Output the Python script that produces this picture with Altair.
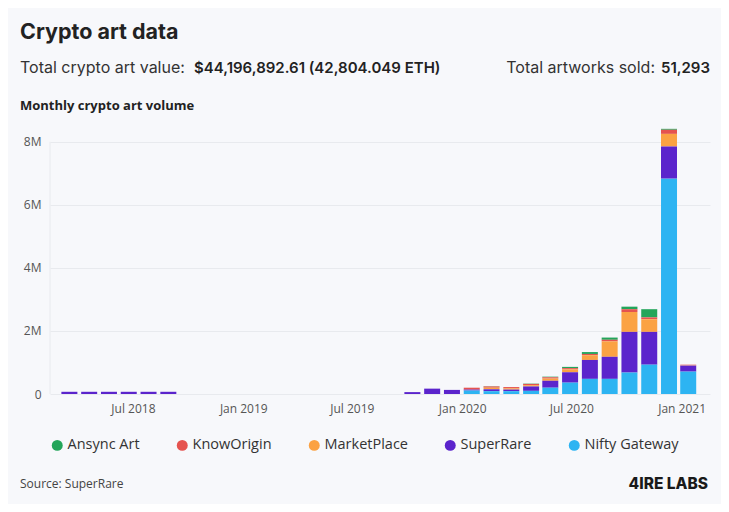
import altair as alt
import pandas as pd

# ---- data (values in millions of USD) ----
dates = [
    "2018-03-17", "2018-04-19", "2018-05-22", "2018-06-24", "2018-07-27", "2018-08-29",
    "2019-10-10", "2019-11-12", "2019-12-15", "2020-01-17", "2020-02-19", "2020-03-23",
    "2020-04-25", "2020-05-27", "2020-06-29", "2020-08-01", "2020-09-03", "2020-10-06",
    "2020-11-08", "2020-12-11", "2021-01-12",
]
nifty_gateway = [0, 0, 0, 0, 0, 0,
                 0, 0, 0, 0.11, 0.09, 0.09, 0.10, 0.20, 0.36, 0.48, 0.48, 0.68, 0.93, 6.83, 0.71]
superrare = [0.07, 0.07, 0.07, 0.07, 0.07, 0.07,
             0.06, 0.17, 0.13, 0.03, 0.06, 0.05, 0.14, 0.22, 0.33, 0.60, 0.70, 1.29, 1.04, 1.02, 0.19]
marketplace = [0, 0, 0, 0, 0, 0,
               0, 0, 0, 0, 0.05, 0.04, 0.04, 0.07, 0.09, 0.15, 0.49, 0.63, 0.40, 0.40, 0.01]
knoworigin = [0, 0, 0, 0, 0, 0,
              0, 0, 0, 0.06, 0.04, 0.04, 0.04, 0.04, 0.04, 0.04, 0.05, 0.09, 0.06, 0.13, 0.02]
ansync_art = [0, 0, 0, 0, 0, 0,
              0, 0, 0, 0, 0.01, 0, 0.01, 0.02, 0.04, 0.06, 0.07, 0.08, 0.26, 0.03, 0]

series_names = ["Ansync Art", "KnowOrigin", "MarketPlace", "SuperRare", "Nifty Gateway"]
series_colors = ["#23a55a", "#e5534f", "#fba243", "#5b24cc", "#2db4f2"]
series_values = [ansync_art, knoworigin, marketplace, superrare, nifty_gateway]
stack_rank = [4, 3, 2, 1, 0]  # Nifty Gateway at the bottom

tick_dates = [(2018, 7), (2019, 1), (2019, 7), (2020, 1), (2020, 7), (2021, 1)]
y_ticks = [0, 2, 4, 6, 8]

title_text = "Crypto art data"
value_label = "Total crypto art value:"
value_text = "$44,196,892.61 (42,804.049 ETH)"
sold_label = "Total artworks sold:"
sold_text = "51,293"
chart_subtitle = "Monthly crypto art volume"
source_text = "Source: SuperRare"
brand_text = "4IRE LABS"

rows = []
for name, vals, rank in zip(series_names, series_values, stack_rank):
    for d, v in zip(dates, vals):
        rows.append({"date": d + "T00:00:00", "series": name, "value": v, "rank": rank})
df = pd.DataFrame(rows)

W, H = 660, 268
BG = "#f7f8fb"
LABEL_FONT = "Open Sans"
HEAD_FONT = "Inter"

bars = alt.Chart(df).mark_bar(size=16).encode(
    x=alt.X(
        "date:T",
        title=None,
        scale=alt.Scale(domain=[alt.DateTime(year=2018, month=2, date=21),
                                alt.DateTime(year=2021, month=2, date=9)]),
        axis=alt.Axis(
            values=[alt.DateTime(year=y, month=m, date=1) for y, m in tick_dates],
            format="%b %Y", grid=False, domain=False, ticks=False,
            labelFont=LABEL_FONT, labelFontSize=12, labelColor="#555555", labelPadding=9,
        ),
    ),
    y=alt.Y(
        "value:Q",
        stack="zero",
        title=None,
        scale=alt.Scale(domain=[0, 8.5], nice=False),
        axis=alt.Axis(
            values=y_ticks, labelExpr="datum.value == 0 ? '0' : datum.value + 'M'",
            domain=False, ticks=False, gridColor="#e8eaee", gridWidth=1,
            labelFont=LABEL_FONT, labelFontSize=12, labelColor="#555555", labelPadding=9,
        ),
    ),
    color=alt.Color(
        "series:N",
        scale=alt.Scale(domain=series_names, range=series_colors),
        legend=alt.Legend(
            title=None, orient="none", legendX=0, legendY=312, direction="horizontal",
            symbolType="circle", symbolSize=120, symbolStrokeWidth=0,
            labelFont=LABEL_FONT, labelFontSize=14.5, labelColor="#333333",
            labelOffset=3, columnPadding=35, padding=0,
        ),
    ),
    order=alt.Order("rank:Q"),
)

axis_line = alt.Chart(pd.DataFrame({"y0": [y_ticks[0]], "y1": [y_ticks[-1]]})).mark_rule(
    color="#e8eaee", strokeWidth=1
).encode(x=alt.value(0), y="y0:Q", y2="y1:Q")


def label(text, x, y, size, weight=400, color="#333333", align="left", font=HEAD_FONT):
    return alt.Chart(pd.DataFrame({"t": [text]})).mark_text(
        align=align, baseline="alphabetic", font=font, fontSize=size,
        fontWeight=weight, color=color,
    ).encode(text="t:N", x=alt.value(x), y=alt.value(y))


texts = [
    label(title_text, -30, -87, 21.5, 700, "#222222"),
    label(value_label, -30, -53, 16, 400, "#333333"),
    label(value_text, 144, -53, 15, 600, "#222222"),
    label(sold_label, 605, -53, 16, 400, "#333333", align="right"),
    label(sold_text, 660, -53, 15, 600, "#222222", align="right"),
    label(chart_subtitle, -30, -16, 13, 700, "#222222", font=LABEL_FONT),
    label(source_text, -30, 362, 12, 400, "#444444", font=LABEL_FONT),
    label(brand_text, 658, 363, 15.5, 800, "#1a1a1a", align="right"),
]

chart = alt.layer(axis_line, bars, *texts).properties(
    width=W, height=H,
    autosize=alt.AutoSizeParams(type="none"),
    padding={"left": 42, "top": 118, "right": 11, "bottom": 110},
    background=BG,
).configure_view(strokeWidth=0)

chart.save("out.html", embed_options={"renderer": "svg", "actions": False})
